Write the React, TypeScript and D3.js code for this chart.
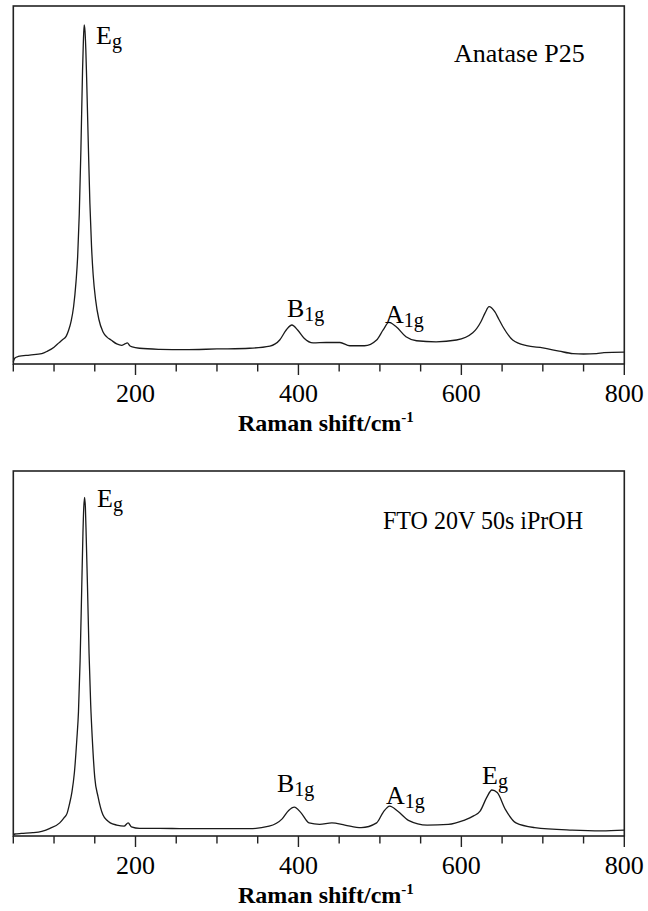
import React from "react";
import * as d3 from "d3";

// Raman spectra: [wavenumber cm-1, intensity a.u.]
const anataseP25: [number, number][] = [
  [50, 0.6], [52, 1.7], [56, 2.1], [70, 2.5], [85, 2.9], [92, 3.6], [100, 4.7],
  [106, 5.9], [110, 6.7], [115, 7.8], [118, 9.5], [121, 12], [124, 16], [127, 23],
  [129, 30], [131, 42], [133, 60], [135, 82], [136, 90], [137, 94.7], [138, 93],
  [139, 88], [140, 80], [142, 62], [144, 45], [146, 33], [148, 25], [151, 18],
  [155, 12.5], [160, 9], [165, 7.5], [170, 6.7], [177, 5.6], [183, 5.2], [187, 5.6],
  [190, 5.9], [193, 5.1], [196, 4.8], [205, 4.4], [230, 4.1], [260, 4.0], [300, 4.2],
  [340, 4.4], [365, 5.0], [377, 6.7], [385, 9.5], [392, 10.9], [399, 9.5], [407, 7.2],
  [418, 5.9], [434, 6.0], [451, 6.0], [463, 5.1], [481, 5.1], [496, 6.7], [504, 9.5],
  [511, 11.6], [520, 10.4], [532, 7.6], [545, 6.5], [569, 6.2], [594, 6.7], [614, 8.7],
  [624, 11.8], [629, 14.2], [634, 16.0], [641, 14.6], [646, 12.5], [651, 10.4],
  [663, 6.7], [680, 5.1], [700, 4.5], [720, 3.6], [737, 2.9], [750, 2.8], [766, 2.9],
  [775, 3.2], [800, 3.3],
];

const ftoIPrOH: [number, number][] = [
  [50, 0.3], [52, 0.55], [60, 0.7], [74, 0.9], [85, 1.3], [95, 2.1], [107, 3.6],
  [112, 4.9], [116, 6.2], [119, 8.8], [122, 12.1], [125, 17.4], [128, 26.5], [130, 34],
  [132, 48], [134, 68], [135.5, 83], [136.5, 90], [137.5, 92.8], [138.5, 90], [139.5, 82],
  [141, 69], [143, 50], [145, 36], [147, 26.5], [150, 16], [154, 10.8], [160, 5.8],
  [165, 4.3], [169, 3.6], [177, 3.0], [186, 2.7], [191, 3.6], [195, 2.5], [205, 2.1],
  [230, 2.1], [260, 2.0], [300, 2.0], [340, 2.0], [364, 2.7], [380, 4.7], [388, 7.0],
  [395, 7.9], [403, 6.4], [413, 3.6], [426, 3.2], [441, 3.6], [457, 3.0], [477, 2.3],
  [496, 3.6], [504, 6.5], [512, 8.2], [522, 6.8], [535, 4.3], [558, 3.0], [584, 3.2],
  [603, 4.3], [615, 5.5], [623, 6.8], [631, 10.5], [637.5, 12.6], [644, 11.9],
  [654, 7.3], [667, 3.6], [690, 2.3], [736, 1.6], [772, 1.4], [800, 1.6],
];

const xDomain: [number, number] = [50, 800];
const xTicks: number[] = d3.range(50, 801, 50);
const xTickLabels: number[] = [200, 400, 600, 800];
const xTitle = "Raman shift/cm";
const panelTitles = ["Anatase P25", "FTO 20V 50s iPrOH"];

const FONT = "'Liberation Serif', 'Times New Roman', serif";

type Label = { main: string; sub: string; x: number; y: number };

function Panel({
  data,
  top,
  bottom,
  title,
  titleX,
  titleY,
  titleLength,
  labels,
}: {
  data: [number, number][];
  top: number;
  bottom: number;
  title: string;
  titleX: number;
  titleY: number;
  titleLength?: number;
  labels: Label[];
}) {
  const left = 13.3;
  const right = 624.3;
  const x = d3.scaleLinear().domain(xDomain).range([left, right]);
  const y = d3.scaleLinear().domain([0, 100]).range([bottom, top]);
  const line = d3
    .line<[number, number]>()
    .x((d) => x(d[0]))
    .y((d) => y(d[1]))
    .curve(d3.curveMonotoneX);
  const extra = titleLength
    ? { textLength: titleLength, lengthAdjust: "spacingAndGlyphs" as const }
    : {};
  return (
    <g>
      <path d={line(data) || ""} fill="none" stroke="#1a1a1a" strokeWidth={1.3} />
      <rect
        x={left}
        y={top}
        width={right - left}
        height={bottom - top}
        fill="none"
        stroke="#222"
        strokeWidth={1.6}
      />
      {xTicks.map((t) => {
        const major = xTickLabels.includes(t);
        return (
          <line
            key={t}
            x1={x(t)}
            x2={x(t)}
            y1={bottom}
            y2={bottom + (major ? 11 : 7.5)}
            stroke="#222"
            strokeWidth={1.4}
          />
        );
      })}
      {xTickLabels.map((t) => (
        <text
          key={t}
          x={x(t)}
          y={bottom + 38}
          textAnchor="middle"
          fontFamily={FONT}
          fontSize={26}
          fill="#000"
        >
          {t}
        </text>
      ))}
      <text
        x={238}
        y={bottom + 67}
        fontFamily={FONT}
        fontSize={24}
        fontWeight="bold"
        fill="#000"
      >
        {xTitle}
        <tspan fontSize={15} dy={-9}>
          -1
        </tspan>
      </text>
      <text
        x={titleX}
        y={titleY}
        fontFamily={FONT}
        fontSize={26}
        fill="#000"
        {...extra}
      >
        {title}
      </text>
      {labels.map((l, i) => (
        <text key={i} x={l.x} y={l.y} fontFamily={FONT} fontSize={26} fill="#000">
          {l.main}
          <tspan fontSize={20} dy={4}>
            {l.sub}
          </tspan>
        </text>
      ))}
    </g>
  );
}

export default function App() {
  return (
    <svg
      width={648}
      height={911}
      style={{ position: "absolute", left: 0, top: 0, background: "#fff" }}
    >
      <rect x={0} y={0} width={648} height={911} fill="#fff" />
      <Panel
        data={anataseP25}
        top={6}
        bottom={364}
        title={panelTitles[0]}
        titleX={454}
        titleY={62}
        labels={[
          { main: "E", sub: "g", x: 96, y: 44 },
          { main: "B", sub: "1g", x: 287, y: 317 },
          { main: "A", sub: "1g", x: 385, y: 322.5 },
        ]}
      />
      <Panel
        data={ftoIPrOH}
        top={471}
        bottom={836}
        title={panelTitles[1]}
        titleX={383}
        titleY={529}
        titleLength={200}
        labels={[
          { main: "E", sub: "g", x: 97, y: 507 },
          { main: "B", sub: "1g", x: 277, y: 792 },
          { main: "A", sub: "1g", x: 386, y: 804 },
          { main: "E", sub: "g", x: 482, y: 784 },
        ]}
      />
    </svg>
  );
}
